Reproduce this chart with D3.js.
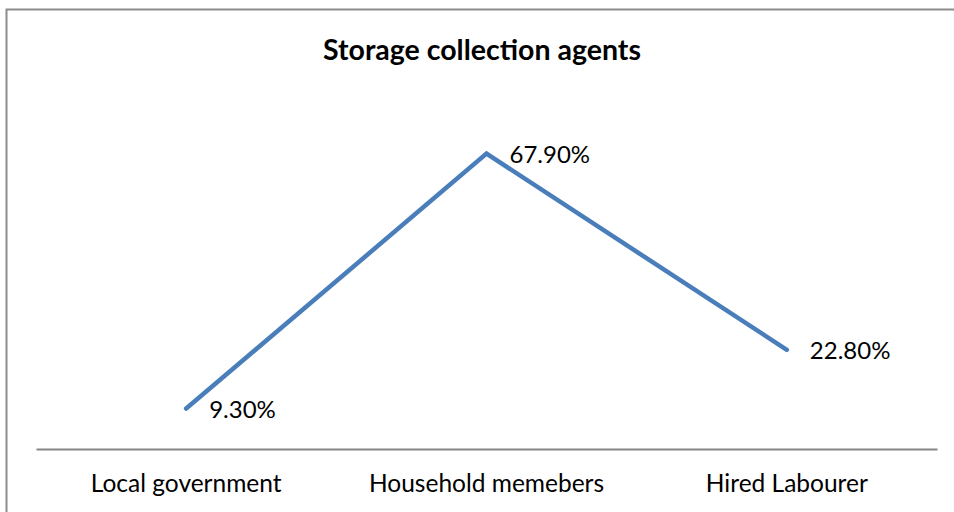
<!DOCTYPE html>
<html>
<head>
<meta charset="utf-8">
<script src="https://cdn.jsdelivr.net/npm/d3@7"></script>
<style>
  body { margin: 0; background: #fff; }
  svg { display: block; font-family: Lato, "Open Sans", sans-serif; }
</style>
</head>
<body>
<script>
  // chart values
  let categories = ["Local government", "Household memebers", "Hired Labourer"];
  let values = [9.3, 67.9, 22.8];
  let title = "Storage collection agents";

  let width = 954, height = 512;
  let plot = {"left": 36, "right": 937, "top": 101, "bottom": 449};

  const svg = d3.select("body")
    .append("svg")
    .attr("width", width)
    .attr("height", height);

  svg.append("rect")
    .attr("width", width)
    .attr("height", height)
    .attr("fill", "#fff");

  // chart border (only top and left edges fall inside the picture)
  svg.append("rect")
    .attr("x", 6.5)
    .attr("y", 9.5)
    .attr("width", 1200)
    .attr("height", 800)
    .attr("fill", "none")
    .attr("stroke", "#8c8c8c")
    .attr("stroke-width", 2);

  svg.append("text")
    .text(title)
    .attr("x", 482)
    .attr("y", 60)
    .attr("text-anchor", "middle")
    .style("font-size", "28.5px")
    .style("font-weight", "bold")
    .attr("fill", "#000");

  let xscale = d3.scaleBand()
    .domain(categories)
    .range([plot.left, plot.right]);

  let yscale = d3.scaleLinear()
    .domain([0, 80])
    .range([plot.bottom, plot.top]);

  let cx = (d) => xscale(d) + xscale.bandwidth() / 2;

  // category axis
  let x_axis = d3.axisBottom()
    .scale(xscale)
    .tickSize(0)
    .tickPadding(0);

  let gx = svg.append("g")
    .attr("transform", "translate(0, " + plot.bottom + ")")
    .call(x_axis);

  gx.select(".domain")
    .attr("stroke", "#868686")
    .attr("stroke-width", 2);

  gx.selectAll(".tick text")
    .attr("y", 43)
    .attr("dy", null)
    .attr("fill", "#000")
    .style("font-family", "Lato, 'Open Sans', sans-serif")
    .style("font-size", "24.5px");

  let line = d3.line()
    .x((d, i) => cx(categories[i]))
    .y((d) => yscale(d));

  svg.append("path")
    .datum(values)
    .attr("d", line)
    .attr("fill", "none")
    .attr("stroke", "#4a7ebb")
    .attr("stroke-width", 4.5)
    .attr("stroke-linecap", "round")
    .attr("stroke-linejoin", "miter");

  svg.selectAll(".label")
    .data(values)
    .enter()
    .append("text")
    .attr("class", "label")
    .attr("x", (d, i) => cx(categories[i]) + 23)
    .attr("y", (d) => yscale(d) + 9)
    .text((d) => d3.format(".2f")(d) + "%")
    .style("font-size", "24px")
    .attr("fill", "#000");
</script>
</body>
</html>
